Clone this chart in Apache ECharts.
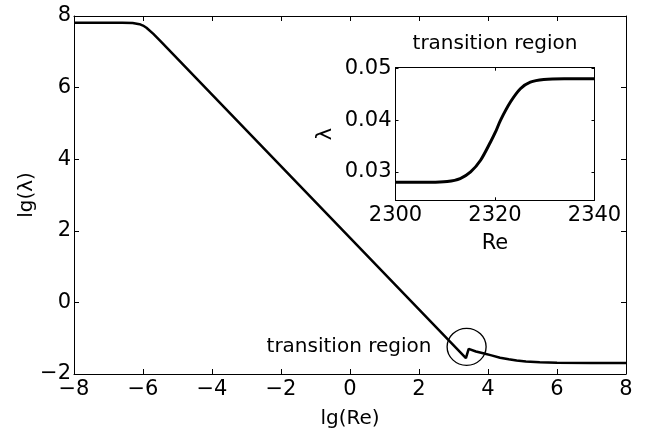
<!DOCTYPE html>
<html>
<head>
<meta charset="utf-8">
<script src="https://cdn.jsdelivr.net/npm/echarts@6/dist/echarts.min.js"></script>
<style>
html,body{margin:0;padding:0;background:#fff;}
#chart{width:648px;height:430px;}
</style>
</head>
<body>
<div id="chart"></div>
<script>
// Main curve: lg(Re) vs lg(lambda)
const mainX = [-8, -7, -6.6, -6.3, -6.1, -6.0, -5.9, -5.7, -5.5, 3.36, 3.44, 3.65, 3.86, 4.1, 4.35, 4.6, 4.83, 5.1, 5.5, 6, 7, 8];
const mainY = [7.81, 7.81, 7.81, 7.803, 7.772, 7.733, 7.671, 7.50, 7.306, -1.555, -1.30, -1.37, -1.42, -1.48, -1.545, -1.59, -1.625, -1.65, -1.673, -1.685, -1.692, -1.693];
// Circle annotation centre (data coords)
const circleCenter = [3.38, -1.24];
const annotationText = 'transition region';
// Inset: Re vs lambda
const insetX = [2300, 2307, 2310.4, 2313, 2315.1, 2317.1, 2319.1, 2320.1, 2321.1, 2323.1, 2325.1, 2327.1, 2329.8, 2333.9, 2340];
const insetY = [0.0280, 0.0280, 0.02815, 0.02872, 0.0300, 0.03226, 0.0358, 0.03774, 0.0400, 0.04354, 0.04613, 0.04741, 0.04793, 0.04807, 0.04807];
const insetYTicks = [0.03, 0.04, 0.05];
const insetTitle = 'transition region';

const FONT = 'DejaVu Sans';
const black = '#000';
function minusFmt(v){ return v < 0 ? '\u2212' + (-v) : String(v); }

const mainData = mainX.map((x, i) => [x, mainY[i]]);
const insetData = insetX.map((x, i) => [x, insetY[i]]);

const lineAxis = {show: true, onZero: false, lineStyle: {color: black, width: 1}};
const chart = echarts.init(document.getElementById('chart'), null, {renderer: 'canvas'});
chart.setOption({
  animation: false,
  backgroundColor: '#fff',
  grid: [
    {left: 74, top: 16, width: 552, height: 358, containLabel: false, outerBoundsMode: 'none'},
    {left: 395.5, top: 67.7, width: 199, height: 132.6, containLabel: false, outerBoundsMode: 'none',
     show: true, backgroundColor: '#fff', borderWidth: 0}
  ],
  xAxis: [
    {gridIndex: 0, type: 'value', position: 'bottom', min: -8, max: 8, interval: 2,
     axisLine: lineAxis, axisTick: {inside: true, length: 5, lineStyle: {color: black}},
     axisLabel: {formatter: minusFmt, color: black, fontFamily: FONT, fontSize: 21, margin: 5},
     splitLine: {show: false},
     name: 'lg(Re)', nameLocation: 'middle', nameGap: 35, nameMoveOverlap: false,
     nameTextStyle: {color: black, fontFamily: FONT, fontSize: 20}},
    {gridIndex: 0, type: 'value', position: 'top', min: -8, max: 8, interval: 2,
     axisLine: lineAxis, axisTick: {inside: true, length: 5, lineStyle: {color: black}},
     axisLabel: {show: false}, splitLine: {show: false}},
    {gridIndex: 1, type: 'value', position: 'bottom', min: 2300, max: 2340, interval: 20,
     axisLine: lineAxis, axisTick: {inside: true, length: 3, lineStyle: {color: black}},
     axisLabel: {color: black, fontFamily: FONT, fontSize: 21, margin: 5, formatter: v => String(v)},
     splitLine: {show: false},
     name: 'Re', nameLocation: 'middle', nameGap: 33, nameMoveOverlap: false,
     nameTextStyle: {color: black, fontFamily: FONT, fontSize: 21}},
    {gridIndex: 1, type: 'value', position: 'top', min: 2300, max: 2340, interval: 20,
     axisLine: lineAxis, axisTick: {inside: true, length: 3, lineStyle: {color: black}},
     axisLabel: {show: false}, splitLine: {show: false},
     name: insetTitle, nameLocation: 'middle', nameGap: 14, nameMoveOverlap: false,
     nameTextStyle: {color: black, fontFamily: FONT, fontSize: 20}}
  ],
  yAxis: [
    {gridIndex: 0, type: 'value', position: 'left', min: -2, max: 8, interval: 2,
     axisLine: lineAxis, axisTick: {inside: true, length: 5, lineStyle: {color: black}},
     axisLabel: {formatter: minusFmt, color: black, fontFamily: FONT, fontSize: 21, margin: 3},
     splitLine: {show: false},
     name: 'lg(\u03bb)', nameLocation: 'middle', nameGap: 37, nameMoveOverlap: false,
     nameTextStyle: {color: black, fontFamily: FONT, fontSize: 20}},
    {gridIndex: 0, type: 'value', position: 'right', min: -2, max: 8, interval: 2,
     axisLine: lineAxis, axisTick: {inside: true, length: 5, lineStyle: {color: black}},
     axisLabel: {show: false}, splitLine: {show: false}},
    {gridIndex: 1, type: 'value', position: 'left', min: 0.0245, max: 0.0502,
     axisLine: lineAxis, axisTick: {inside: true, length: 3, lineStyle: {color: black}, customValues: insetYTicks},
     axisLabel: {color: black, fontFamily: FONT, fontSize: 21, margin: 4, customValues: insetYTicks,
                 formatter: v => v.toFixed(2)},
     splitLine: {show: false},
     name: '\u03bb', nameLocation: 'middle', nameGap: 59, nameMoveOverlap: false,
     nameTextStyle: {color: black, fontFamily: FONT, fontSize: 21}},
    {gridIndex: 1, type: 'value', position: 'right', min: 0.0245, max: 0.0502,
     axisLine: lineAxis, axisTick: {inside: true, length: 3, lineStyle: {color: black}, customValues: insetYTicks},
     axisLabel: {show: false}, splitLine: {show: false}}
  ],
  series: [
    {type: 'line', xAxisIndex: 0, yAxisIndex: 0, data: mainData, showSymbol: false,
     lineStyle: {color: black, width: 2.5}, silent: true},
    {type: 'scatter', xAxisIndex: 0, yAxisIndex: 0, data: [circleCenter], symbol: 'circle', symbolSize: [39, 37],
     itemStyle: {color: 'rgba(0,0,0,0)', borderColor: black, borderWidth: 1.3, opacity: 1},
     label: {show: true, position: 'left', distance: 15, formatter: annotationText,
             color: black, opacity: 1, fontFamily: FONT, fontSize: 20}, silent: true},
    {type: 'line', xAxisIndex: 2, yAxisIndex: 2, data: insetData, showSymbol: false, smooth: 0.3,
     lineStyle: {color: black, width: 3}, silent: true}
  ]
});
</script>
</body>
</html>
